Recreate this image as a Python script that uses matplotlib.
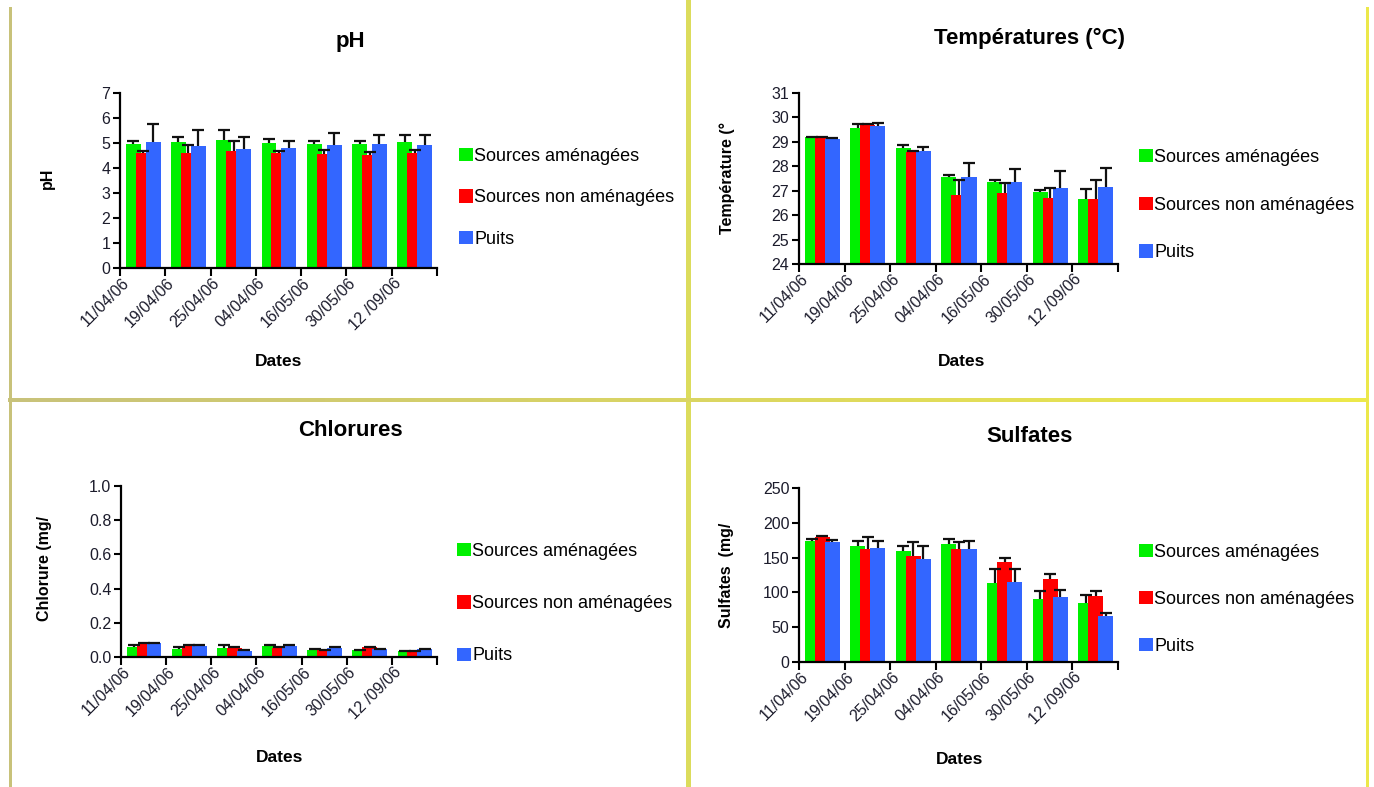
import numpy as np
import matplotlib
matplotlib.use('Agg')
import matplotlib.pyplot as plt
from matplotlib.lines import Line2D

plt.rcParams['font.family'] = ['Liberation Sans', 'DejaVu Sans']

dates = ['11/04/06', '19/04/06', '25/04/06', '04/04/06', '16/05/06', '30/05/06', '12 /09/06']
series = ['Sources aménagées', 'Sources non aménagées', 'Puits']
colors = ['#00f000', '#ff0000', '#3366ff']

# pH
ph_amen = [4.95, 5.03, 5.13, 5.00, 4.96, 4.96, 5.03]
ph_amen_err = [0.13, 0.21, 0.38, 0.17, 0.13, 0.13, 0.30]
ph_non = [4.60, 4.60, 4.67, 4.60, 4.57, 4.53, 4.60]
ph_non_err = [0.07, 0.33, 0.42, 0.10, 0.14, 0.11, 0.13]
ph_puits = [5.04, 4.89, 4.77, 4.80, 4.93, 4.96, 4.93]
ph_puits_err = [0.73, 0.64, 0.47, 0.29, 0.47, 0.37, 0.40]

# temperatures (deg C)
temp_amen = [29.18, 29.57, 28.73, 27.57, 27.34, 26.96, 26.66]
temp_amen_err = [0.02, 0.15, 0.13, 0.07, 0.10, 0.07, 0.40]
temp_non = [29.18, 29.70, 28.59, 26.83, 26.89, 26.69, 26.66]
temp_non_err = [0.02, 0.02, 0.02, 0.61, 0.44, 0.41, 0.78]
temp_puits = [29.12, 29.65, 28.62, 27.57, 27.37, 27.12, 27.14]
temp_puits_err = [0.02, 0.14, 0.18, 0.55, 0.50, 0.70, 0.80]

# chlorures (mg/l)
cl_amen = [0.059, 0.049, 0.050, 0.064, 0.043, 0.040, 0.035]
cl_amen_err = [0.009, 0.010, 0.018, 0.004, 0.003, 0.003, 0.003]
cl_non = [0.078, 0.066, 0.053, 0.053, 0.039, 0.058, 0.030]
cl_non_err = [0.003, 0.003, 0.007, 0.003, 0.003, 0.003, 0.004]
cl_puits = [0.080, 0.064, 0.037, 0.062, 0.055, 0.045, 0.045]
cl_puits_err = [0.003, 0.005, 0.003, 0.006, 0.003, 0.003, 0.003]

# sulfates (mg/l)
so4_amen = [174, 166, 159, 169, 114, 91, 85]
so4_amen_err = [3, 8, 7, 8, 19, 11, 11]
so4_non = [179, 163, 153, 163, 144, 119, 95]
so4_non_err = [2, 16, 19, 9, 6, 7, 7]
so4_puits = [173, 164, 148, 162, 115, 94, 66]
so4_puits_err = [3, 10, 18, 12, 18, 10, 5]

W, H = 1374, 787
fig = plt.figure(figsize=(W / 100, H / 100), dpi=100)


def px_rect(l, t, r, b):
    return [l / W, 1 - b / H, (r - l) / W, (b - t) / H]


def px(x, y):
    return x / W, 1 - y / H


offsets = [-0.21, 0.01, 0.23]
bar_w = 0.33


def bar_panel(rect, vals, errs, ylim, yticks, yfmt, title, title_xy, ylabel, ylabel_xy,
              xlabel_xy, leg_xy, leg_space):
    ax = fig.add_axes(px_rect(*rect))
    x = np.arange(len(dates)) + 0.5
    handles = []
    for k in range(3):
        b = ax.bar(x + offsets[k], vals[k], width=bar_w, color=colors[k],
                   bottom=0, zorder=2 + k, label=series[k])
        handles.append(b)
    for k in range(3):
        eb = ax.errorbar(x + offsets[k], vals[k],
                         yerr=[np.zeros(len(errs[k])), errs[k]], fmt='none',
                         ecolor='#111111', elinewidth=1.6, capsize=4.5, capthick=1.6,
                         zorder=10)
        eb[1][0].set_visible(False)  # only the upper cap
    ax.set_xlim(0, len(dates))
    ax.set_ylim(*ylim)
    ax.set_yticks(yticks)
    ax.set_yticklabels([yfmt.format(v) for v in yticks])
    ax.set_xticks(np.arange(len(dates) + 1))
    ax.set_xticklabels([])
    ax.set_xticks(np.arange(len(dates)) + 0.15, minor=True)
    ax.set_xticklabels(dates, minor=True, rotation=45, ha='right', va='center',
                       rotation_mode='anchor', fontsize=11.5, color='#1c1c2c')
    ax.tick_params(axis='x', which='minor', length=0, pad=9)
    ax.tick_params(axis='x', which='major', length=6, width=1.5, direction='out')
    ax.tick_params(axis='y', length=5, width=1.5, direction='out', labelsize=11.5,
                   labelcolor='#1c1c2c', pad=2)
    for s in ['top', 'right']:
        ax.spines[s].set_visible(False)
    for s in ['left', 'bottom']:
        ax.spines[s].set_linewidth(1.6)
        ax.spines[s].set_zorder(12)
    ax.set_facecolor('none')

    fig.text(*px(*title_xy), title, ha='center', va='center', fontsize=16,
             fontweight='bold')
    fig.text(*px(*ylabel_xy), ylabel, ha='center', va='center', rotation=90,
             fontsize=11.5, fontweight='bold')
    fig.text(*px(*xlabel_xy), 'Dates', ha='center', va='center', fontsize=12.5,
             fontweight='bold')
    ax.legend(handles=handles, loc='upper left', bbox_to_anchor=px(*leg_xy),
              bbox_transform=fig.transFigure, frameon=False, fontsize=13,
              handlelength=0.75, handleheight=0.75, handletextpad=0.1,
              labelspacing=leg_space, borderpad=0, borderaxespad=0)
    return ax


bar_panel((120, 93, 437, 268), [ph_amen, ph_non, ph_puits],
          [ph_amen_err, ph_non_err, ph_puits_err], (0, 7), range(0, 8), '{:d}',
          'pH', (350, 42), 'pH', (47, 178), (279, 362), (459, 148), 1.35)

bar_panel((799, 93, 1118, 264), [temp_amen, temp_non, temp_puits],
          [temp_amen_err, temp_non_err, temp_puits_err], (24, 31), range(24, 32), '{:d}',
          'Températures (°C)', (1030, 38), 'Température (°', (727, 178), (962, 362),
          (1139, 149), 1.7)

bar_panel((121, 486, 437, 657), [cl_amen, cl_non, cl_puits],
          [cl_amen_err, cl_non_err, cl_puits_err], (0, 1.0),
          [0.0, 0.2, 0.4, 0.6, 0.8, 1.0], '{:.1f}',
          'Chlorures', (350, 430), 'Chlorure (mg/', (45, 568), (280, 757),
          (457, 543), 1.95)

bar_panel((799, 488, 1118, 662), [so4_amen, so4_non, so4_puits],
          [so4_amen_err, so4_non_err, so4_puits_err], (0, 250), range(0, 251, 50), '{:d}',
          'Sulfates', (1030, 436), 'Sulfates  (mg/', (727, 575), (960, 760),
          (1139, 544), 1.65)

# panel frame lines
frame = [
    ((10, 8), (10, 787), '#c8c27a', 3),
    ((688, 0), (688, 787), '#dcdc5c', 5),
    ((1367, 8), (1367, 787), '#ece84a', 3),
]
for (x0, y0), (x1, y1), c, lw in frame:
    fig.add_artist(Line2D([x0 / W, x1 / W], [1 - y0 / H, 1 - y1 / H], color=c,
                          linewidth=lw * 0.72, transform=fig.transFigure))

# horizontal separator, olive on the left fading to yellow on the right
c0 = np.array(matplotlib.colors.to_rgb('#c8c27a'))
c1 = np.array(matplotlib.colors.to_rgb('#ece84a'))
n_seg = 60
xs = np.linspace(10, 1367, n_seg + 1)
for i in range(n_seg):
    t = i / (n_seg - 1)
    fig.add_artist(Line2D([xs[i] / W, xs[i + 1] / W], [1 - 400 / H, 1 - 400 / H],
                          color=c0 + (c1 - c0) * t, linewidth=4 * 0.72,
                          transform=fig.transFigure, solid_capstyle='projecting'))

fig.savefig('out.png', dpi=100)
